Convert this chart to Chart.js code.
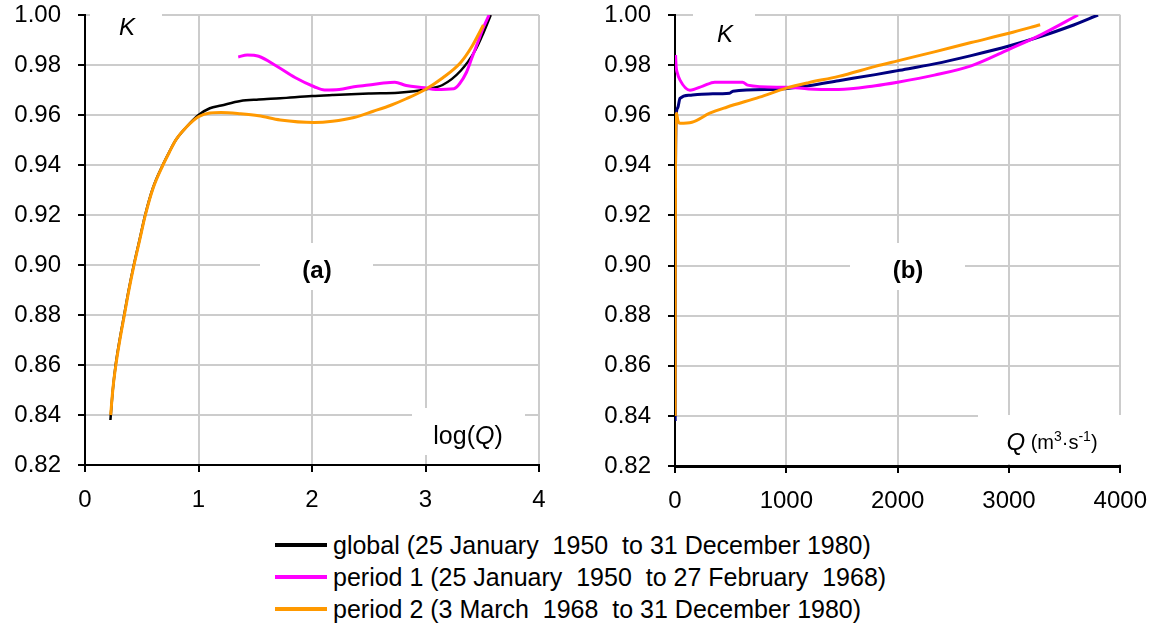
<!DOCTYPE html>
<html>
<head>
<meta charset="utf-8">
<script src="https://cdn.jsdelivr.net/npm/chart.js@4.4.0/dist/chart.umd.min.js"></script>
<style>
  html, body { margin: 0; padding: 0; background: #fff; }
  #wrap { position: relative; width: 1161px; height: 630px; overflow: hidden; font-family: 'Liberation Sans', Arial, sans-serif; }
  #chartA { position: absolute; left: 0; top: 0; }
  #chartB { position: absolute; left: 580px; top: 0; }
  #legend { position: absolute; left: 275px; top: 529px; font-size: 25px; color: #000; }
  .row { display: flex; align-items: center; height: 32px; white-space: pre; }
  .swatch { width: 52px; height: 4px; margin-right: 6px; }
</style>
</head>
<body>
<div id="wrap">
  <canvas id="chartA" width="580" height="510"></canvas>
  <canvas id="chartB" width="581" height="510"></canvas>
  <div id="legend"></div>
</div>
<script>
// Panel (a): K against log(Q)
const aGlobalLogQ = [0.224, 0.245, 0.27, 0.305, 0.345, 0.385, 0.43, 0.48, 0.53, 0.60, 0.685, 0.74, 0.80, 0.89, 1.00, 1.10, 1.20, 1.37, 1.53, 1.72, 2.00, 2.18, 2.50, 2.76, 2.90, 3.00, 3.15, 3.31, 3.44, 3.51, 3.575];
const aGlobalK    = [0.838, 0.850, 0.860, 0.870, 0.880, 0.890, 0.900, 0.910, 0.920, 0.931, 0.940, 0.945, 0.950, 0.955, 0.9600, 0.9627, 0.9638, 0.9656, 0.9662, 0.9667, 0.9676, 0.9680, 0.9686, 0.9689, 0.9695, 0.9703, 0.9720, 0.9777, 0.9860, 0.9928, 1.0];

const aPeriod1LogQ = [1.35, 1.43, 1.53, 1.69, 1.85, 2.02, 2.11, 2.24, 2.37, 2.50, 2.63, 2.73, 2.83, 2.99, 3.09, 3.25, 3.30, 3.36, 3.41, 3.46, 3.51, 3.56];
const aPeriod1K    = [0.9832, 0.9840, 0.9835, 0.9795, 0.9750, 0.9713, 0.9700, 0.9702, 0.9713, 0.9720, 0.9728, 0.9731, 0.9718, 0.9709, 0.9702, 0.9705, 0.9725, 0.9770, 0.9830, 0.9890, 0.9950, 1.0];

const aPeriod2LogQ = [0.226, 0.247, 0.272, 0.307, 0.347, 0.387, 0.432, 0.482, 0.532, 0.602, 0.687, 0.742, 0.80, 0.89, 1.00, 1.10, 1.20, 1.37, 1.53, 1.72, 2.02, 2.18, 2.37, 2.54, 2.70, 2.83, 2.99, 3.15, 3.31, 3.41, 3.51];
const aPeriod2K    = [0.840, 0.851, 0.860, 0.870, 0.880, 0.890, 0.900, 0.910, 0.920, 0.931, 0.940, 0.945, 0.950, 0.955, 0.9593, 0.9608, 0.9610, 0.9605, 0.9597, 0.9580, 0.9570, 0.9575, 0.9590, 0.9615, 0.9640, 0.9665, 0.9700, 0.9748, 0.9810, 0.9875, 0.9960];

// Panel (b): K against Q (m3/s)
const bGlobalQ = [1.7, 2.8, 4.8, 6.5, 10, 25, 45, 134, 300, 491, 520, 911, 1000, 1200, 1470, 1800, 2000, 2330, 2660, 3000, 3290, 3550, 3800];
const bGlobalK = [0.838, 0.900, 0.940, 0.950, 0.9595, 0.9630, 0.9667, 0.9680, 0.9685, 0.9688, 0.9696, 0.9703, 0.9707, 0.9718, 0.9738, 0.9762, 0.9778, 0.9805, 0.9838, 0.9876, 0.9915, 0.9955, 1.0];

const bPeriod1Q = [5, 10, 20, 45, 134, 250, 357, 607, 652, 911, 1000, 1200, 1470, 1800, 2000, 2330, 2660, 3000, 3290, 3620];
const bPeriod1K = [0.9840, 0.9795, 0.9770, 0.9740, 0.9700, 0.9716, 0.9732, 0.9732, 0.9720, 0.9712, 0.9712, 0.9705, 0.9703, 0.9718, 0.9732, 0.9760, 0.9797, 0.9863, 0.9922, 1.0];

const bPeriod2Q = [1.7, 2.8, 4.8, 6.5, 10, 14, 25, 45, 152, 312, 464, 759, 1000, 1200, 1470, 1800, 2000, 2330, 2660, 3000, 3280];
const bPeriod2K = [0.840, 0.900, 0.940, 0.950, 0.9595, 0.9608, 0.9580, 0.9568, 0.9572, 0.9608, 0.9632, 0.9672, 0.9708, 0.9730, 0.9755, 0.9795, 0.9817, 0.9853, 0.9890, 0.9927, 0.9961];

const seriesNames = [
  'global (25 January  1950  to 31 December 1980)',
  'period 1 (25 January  1950  to 27 February  1968)',
  'period 2 (3 March  1968  to 31 December 1980)'
];
const legendColors = ['#000000', '#ff00ff', '#ff9900'];

const FONT = "'Liberation Sans', Arial, sans-serif";

function toPoints(xs, ys) {
  return xs.map((x, i) => ({ x: x, y: ys[i] }));
}

// white boxes with text, drawn over the grid
const panelLabels = {
  id: 'panelLabels',
  beforeDatasetsDraw(chart, args, opts) {
    const ctx = chart.ctx;
    (opts.items || []).forEach(item => {
      ctx.save();
      ctx.fillStyle = '#fff';
      const b = item.box;
      ctx.fillRect(b[0], b[1], b[2] - b[0], b[3] - b[1]);
      ctx.fillStyle = '#000';
      ctx.textBaseline = 'middle';
      let total = 0;
      item.parts.forEach(p => { ctx.font = p.font; total += ctx.measureText(p.text).width; });
      let x = item.x - total / 2;
      item.parts.forEach(p => {
        ctx.font = p.font;
        ctx.fillText(p.text, x, item.y + (p.dy || 0));
        x += ctx.measureText(p.text).width;
      });
      ctx.restore();
    });
  }
};

// order: lower number is painted on top (period 2 over period 1 over global)
function lineSet(label, pts, color, width, order) {
  return {
    label: label,
    data: pts,
    order: order,
    borderColor: color,
    backgroundColor: color,
    borderWidth: width,
    pointRadius: 0,
    showLine: true,
    fill: false,
    cubicInterpolationMode: 'monotone'
  };
}

function makeOptions(cfg) {
  return {
    responsive: false,
    animation: false,
    layout: { padding: { left: 0, right: cfg.padRight, top: 0, bottom: 0 } },
    plugins: {
      legend: { display: false },
      tooltip: { enabled: false },
      panelLabels: { items: cfg.labels }
    },
    scales: {
      x: {
        type: 'linear',
        min: cfg.xMin, max: cfg.xMax,
        afterFit: s => { s.height = cfg.xHeight; },
        ticks: {
          stepSize: cfg.xStep,
          color: '#000',
          font: { family: FONT, size: 24 },
          padding: 14,
          callback: v => String(v)
        },
        grid: { color: '#cccccc', lineWidth: 2, tickColor: '#000', tickWidth: 2, tickLength: 7 },
        border: { color: '#000', width: cfg.xBorder }
      },
      y: {
        min: 0.82, max: 1.0,
        afterFit: s => { s.width = cfg.yWidth; s.paddingTop = 15; s.paddingBottom = 0; },
        ticks: {
          stepSize: 0.02,
          color: '#000',
          font: { family: FONT, size: 24 },
          padding: 17,
          callback: v => v.toFixed(2)
        },
        grid: { color: '#cccccc', lineWidth: 2, tickColor: '#000', tickWidth: 2, tickLength: 7 },
        border: { color: '#000', width: 2 }
      }
    }
  };
}

new Chart(document.getElementById('chartA'), {
  type: 'scatter',
  data: {
    datasets: [
      lineSet(seriesNames[0], toPoints(aGlobalLogQ, aGlobalK), '#000000', 2.5, 3),
      lineSet(seriesNames[1], toPoints(aPeriod1LogQ, aPeriod1K), '#ff00ff', 3, 2),
      lineSet(seriesNames[2], toPoints(aPeriod2LogQ, aPeriod2K), '#ff9900', 3, 1)
    ]
  },
  options: makeOptions({
    xMin: 0, xMax: 4, xStep: 1, yWidth: 85, padRight: 41, xHeight: 45, xBorder: 2,
    labels: [
      { box: [90, 4, 162, 55], x: 127, y: 28, parts: [{ text: 'K', font: 'italic 24px ' + FONT }] },
      { box: [260, 243, 373, 290], x: 317, y: 271, parts: [{ text: '(a)', font: 'bold 24px ' + FONT }] },
      { box: [412, 408, 525, 455], x: 468, y: 437, parts: [
        { text: 'log(', font: '25px ' + FONT },
        { text: 'Q', font: 'italic 25px ' + FONT },
        { text: ')', font: '25px ' + FONT }
      ] }
    ]
  }),
  plugins: [panelLabels]
});

new Chart(document.getElementById('chartB'), {
  type: 'scatter',
  data: {
    datasets: [
      lineSet(seriesNames[0], toPoints(bGlobalQ, bGlobalK), '#000080', 3, 3),
      lineSet(seriesNames[1], toPoints(bPeriod1Q, bPeriod1K), '#ff00ff', 3, 2),
      lineSet(seriesNames[2], toPoints(bPeriod2Q, bPeriod2K), '#ff9900', 3, 1)
    ]
  },
  options: makeOptions({
    xMin: 0, xMax: 4000, xStep: 1000, yWidth: 95, padRight: 37, xHeight: 44, xBorder: 3,
    labels: [
      { box: [113, 4, 175, 55], x: 145, y: 35, parts: [{ text: 'K', font: 'italic 24px ' + FONT }] },
      { box: [270, 243, 385, 290], x: 328, y: 271, parts: [{ text: '(b)', font: 'bold 24px ' + FONT }] },
      { box: [398, 415, 542, 464], x: 472, y: 443, parts: [
        { text: 'Q', font: 'italic 24px ' + FONT },
        { text: ' (m', font: '20px ' + FONT },
        { text: '3', font: '14px ' + FONT, dy: -6 },
        { text: '\u00b7s', font: '20px ' + FONT },
        { text: '-1', font: '14px ' + FONT, dy: -6 },
        { text: ')', font: '20px ' + FONT }
      ] }
    ]
  }),
  plugins: [panelLabels]
});

// legend under both panels
const legendBox = document.getElementById('legend');
seriesNames.forEach((name, i) => {
  const row = document.createElement('div');
  row.className = 'row';
  const sw = document.createElement('span');
  sw.className = 'swatch';
  sw.style.background = legendColors[i];
  const txt = document.createElement('span');
  txt.textContent = name;
  row.appendChild(sw);
  row.appendChild(txt);
  legendBox.appendChild(row);
});
</script>
</body>
</html>
